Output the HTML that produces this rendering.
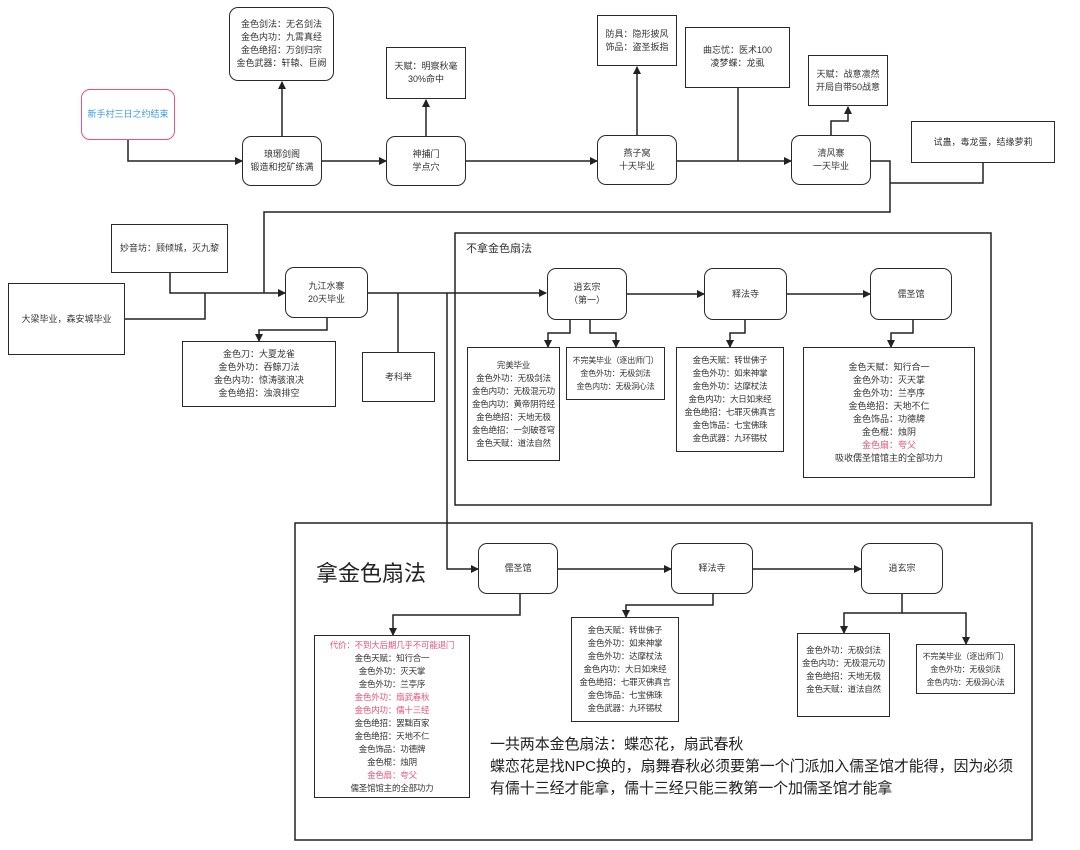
<!DOCTYPE html>
<html><head><meta charset="utf-8">
<style>
body{margin:0;width:1080px;height:850px;background:#fff;position:relative;overflow:hidden;font-family:"Liberation Sans","Noto Sans CJK SC",sans-serif;color:#333}
.b{position:absolute;border:1.5px solid #2a2a2a;box-sizing:border-box;display:flex;align-items:center;justify-content:center;text-align:center;font-size:9px;line-height:13px;background:#fff;white-space:nowrap}
.r{border-radius:9px}
.red{color:#e8547a}
svg{position:absolute;left:0;top:0}
.t{position:absolute;white-space:nowrap}
.s{font-size:8.5px;letter-spacing:-0.2px}
</style></head><body>
<svg width="1080" height="850" viewBox="0 0 1080 850">
<defs><marker id="a" markerWidth="8" markerHeight="8" refX="7" refY="4" orient="auto" markerUnits="userSpaceOnUse"><path d="M0,0 L8,4 L0,8 z" fill="#222"/></marker></defs>
<g fill="none" stroke="#222" stroke-width="1.5">
<rect x="455" y="233" width="536" height="272"/>
<rect x="295" y="523" width="737" height="317"/>
<path d="M128 140 V161 H242" marker-end="url(#a)"/>
<path d="M282 136 V82" marker-end="url(#a)"/>
<path d="M322 161 H386" marker-end="url(#a)"/>
<path d="M426 136 V100" marker-end="url(#a)"/>
<path d="M466 161 H597" marker-end="url(#a)"/>
<path d="M637 135 V67" marker-end="url(#a)"/>
<path d="M738 88 V161"/>
<path d="M677 161 H791" marker-end="url(#a)"/>
<path d="M831 135 V121 H848 V107" marker-end="url(#a)"/>
<path d="M983 163 V183 H890"/>
<path d="M871 161 H890 V212 H264 V293"/>
<path d="M170 273 V293 H285" marker-end="url(#a)"/>
<path d="M125 319 H205 V293"/>
<path d="M327 318 V330 H259 V341" marker-end="url(#a)"/>
<path d="M368 293 H546" marker-end="url(#a)"/>
<path d="M398 293 V352"/>
<path d="M447 293 V569 H478" marker-end="url(#a)"/>
<path d="M570 320 V333 H548 V347" marker-end="url(#a)"/>
<path d="M590 320 V333 H616 V347" marker-end="url(#a)"/>
<path d="M627 294 H704" marker-end="url(#a)"/>
<path d="M787 294 H870" marker-end="url(#a)"/>
<path d="M745 320 V333 H730 V347" marker-end="url(#a)"/>
<path d="M913 320 V333 H891 V347" marker-end="url(#a)"/>
<path d="M558 569 H671" marker-end="url(#a)"/>
<path d="M753 569 H861" marker-end="url(#a)"/>
<path d="M520 594 V615 H393 V635" marker-end="url(#a)"/>
<path d="M713 594 V605 H626 V617" marker-end="url(#a)"/>
<path d="M902 594 V613 H844 V633" marker-end="url(#a)"/>
<path d="M902 613 H966 V644" marker-end="url(#a)"/>
</g>
</svg>

<div class="b r" style="left:81px;top:89px;width:94px;height:51px;border-color:#e8547a;color:#3a9ae8">新手村三日之约结束</div>
<div class="b r" style="left:242px;top:136px;width:80px;height:50px">琅琊剑阁<br>锻造和挖矿练满</div>
<div class="b r" style="left:229px;top:7px;width:105px;height:74px">金色剑法：无名剑法<br>金色内功：九霄真经<br>金色绝招：万剑归宗<br>金色武器：轩辕、巨阙</div>
<div class="b r" style="left:386px;top:136px;width:80px;height:50px">神捕门<br>学点穴</div>
<div class="b" style="left:386px;top:47px;width:80px;height:52px">天赋：明察秋毫<br>30%命中</div>
<div class="b r" style="left:597px;top:135px;width:80px;height:50px">燕子窝<br>十天毕业</div>
<div class="b" style="left:597px;top:15px;width:80px;height:51px">防具：隐形披风<br>饰品：盗圣扳指</div>
<div class="b" style="left:685px;top:27px;width:105px;height:61px;align-items:flex-start;padding-top:16px">曲忘忧：医术100<br>凌梦蝶：龙虱</div>
<div class="b r" style="left:791px;top:135px;width:80px;height:50px">清风寨<br>一天毕业</div>
<div class="b" style="left:808px;top:55px;width:80px;height:51px">天赋：战意凛然<br>开局自带50战意</div>
<div class="b" style="left:911px;top:121px;width:144px;height:42px">试蛊，毒龙蛋，结缘萝莉</div>

<div class="b" style="left:111px;top:224px;width:117px;height:49px">妙音坊：顾倾城，灭九黎</div>
<div class="b" style="left:8px;top:283px;width:117px;height:72px">大梁毕业，森安城毕业</div>
<div class="b r" style="left:285px;top:267px;width:83px;height:51px">九江水寨<br>20天毕业</div>
<div class="b" style="left:182px;top:341px;width:154px;height:66px">金色刀：大夏龙雀<br>金色外功：吞鲸刀法<br>金色内功：惊涛骇浪决<br>金色绝招：浊浪排空</div>
<div class="b" style="left:362px;top:352px;width:73px;height:50px">考科举</div>

<div class="t" style="left:466px;top:240px;font-size:11px">不拿金色扇法</div>
<div class="b r" style="left:547px;top:268px;width:80px;height:52px">逍玄宗<br>（第一）</div>
<div class="b r" style="left:704px;top:268px;width:83px;height:52px">释法寺</div>
<div class="b r" style="left:870px;top:268px;width:82px;height:52px">儒圣馆</div>
<div class="b s" style="left:467px;top:347px;width:93px;height:114px">完美毕业<br>金色外功：无极剑法<br>金色内功：无极混元功<br>金色内功：黄帝阴符经<br>金色绝招：天地无极<br>金色绝招：一剑破苍穹<br>金色天赋：道法自然</div>
<div class="b s" style="left:566px;top:347px;width:99px;height:53px;font-size:8px">不完美毕业（逐出师门）<br>金色外功：无极剑法<br>金色内功：无极洞心法</div>
<div class="b s" style="left:676px;top:347px;width:108px;height:105px">金色天赋：转世佛子<br>金色外功：如来神掌<br>金色外功：达摩杖法<br>金色内功：大日如来经<br>金色绝招：七罪灭佛真言<br>金色饰品：七宝佛珠<br>金色武器：九环锡杖</div>
<div class="b" style="left:803px;top:347px;width:172px;height:131px"><div>金色天赋：知行合一<br>金色外功：灭天掌<br>金色外功：兰亭序<br>金色绝招：天地不仁<br>金色饰品：功德牌<br>金色棍：烛阴<br><span class="red">金色扇：夸父</span><br>吸收儒圣馆馆主的全部功力</div></div>

<div class="t" style="left:316px;top:556px;font-size:22px;color:#222">拿金色扇法</div>
<div class="b r" style="left:478px;top:543px;width:80px;height:51px">儒圣馆</div>
<div class="b r" style="left:671px;top:543px;width:82px;height:51px">释法寺</div>
<div class="b r" style="left:861px;top:543px;width:82px;height:51px">逍玄宗</div>
<div class="b s" style="left:314px;top:635px;width:156px;height:163px"><div><span class="red">代价：不到大后期几乎不可能退门</span><br>金色天赋：知行合一<br>金色外功：灭天掌<br>金色外功：兰亭序<br><span class="red">金色外功：扇武春秋</span><br><span class="red">金色内功：儒十三经</span><br>金色绝招：罢黜百家<br>金色绝招：天地不仁<br>金色饰品：功德牌<br>金色棍：烛阴<br><span class="red">金色扇：夸父</span><br>儒圣馆馆主的全部功力</div></div>
<div class="b s" style="left:571px;top:617px;width:108px;height:105px">金色天赋：转世佛子<br>金色外功：如来神掌<br>金色外功：达摩杖法<br>金色内功：大日如来经<br>金色绝招：七罪灭佛真言<br>金色饰品：七宝佛珠<br>金色武器：九环锡杖</div>
<div class="b s" style="left:797px;top:633px;width:93px;height:84px;padding-bottom:10px">金色外功：无极剑法<br>金色内功：无极混元功<br>金色绝招：天地无极<br>金色天赋：道法自然</div>
<div class="b s" style="left:916px;top:644px;width:99px;height:50px;font-size:8px">不完美毕业（逐出师门）<br>金色外功：无极剑法<br>金色内功：无极洞心法</div>
<div class="t" style="left:490px;top:734px;font-size:15px;line-height:22px;color:#222;letter-spacing:-0.1px">一共两本金色扇法：蝶恋花，扇武春秋<br>蝶恋花是找NPC换的，扇舞春秋必须要第一个门派加入儒圣馆才能得，因为必须<br>有儒十三经才能拿，儒十三经只能三教第一个加儒圣馆才能拿</div>
</body></html>
